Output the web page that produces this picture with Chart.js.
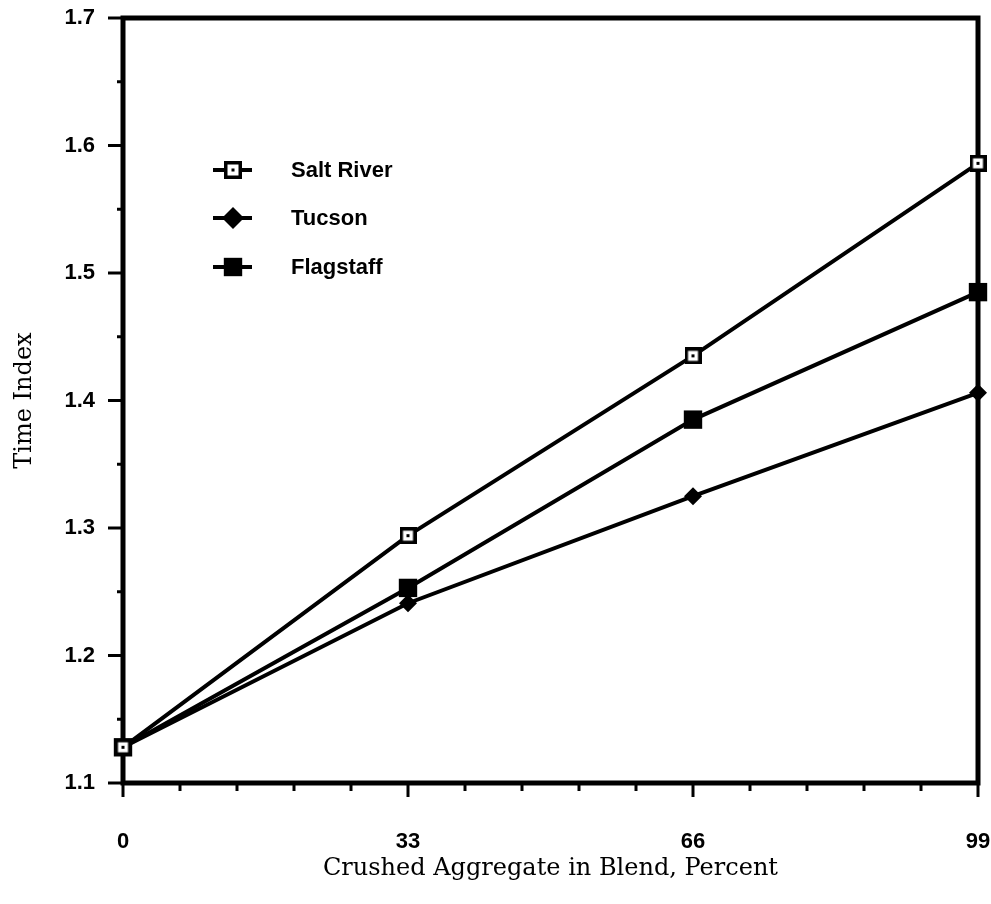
<!DOCTYPE html>
<html>
<head>
<meta charset="utf-8">
<script src="https://cdn.jsdelivr.net/npm/chart.js@4.4.0/dist/chart.umd.min.js"></script>
<style>
  html, body { margin: 0; padding: 0; background: #fff; }
  #wrap { width: 991px; height: 904px; }
</style>
</head>
<body>
<div id="wrap"><canvas id="timeIndexChart"></canvas></div>
<script>
  const blendPercent = [0, 33, 66, 99];
  const saltRiver = [1.128, 1.294, 1.435, 1.586];
  const tucson = [1.128, 1.241, 1.325, 1.406];
  const flagstaff = [1.128, 1.253, 1.385, 1.485];
  const seriesNames = ['Salt River', 'Tucson', 'Flagstaff'];
  const xTickLabels = [0, 33, 66, 99];
  const yTickLabels = [1.1, 1.2, 1.3, 1.4, 1.5, 1.6, 1.7];

  // open square with a dot in the middle, like the scan
  function makeOpenSquare(size) {
    const c = document.createElement('canvas');
    c.width = size; c.height = size;
    const g = c.getContext('2d');
    g.fillStyle = '#000';
    g.fillRect(0, 0, size, size);
    g.fillStyle = '#fff';
    g.fillRect(3.5, 3.5, size - 7, size - 7);
    g.fillStyle = '#000';
    g.fillRect(size / 2 - 1.5, size / 2 - 1.5, 3, 3);
    return c;
  }
  const saltMarker = makeOpenSquare(17);
  const saltLegendMarker = makeOpenSquare(18);

  const toPoints = vals => vals.map((v, i) => ({ x: blendPercent[i], y: v }));

  const serif = 'DejaVu Serif';
  const sans = 'Liberation Sans';

  const frameAndTicks = {
    id: 'frameAndTicks',
    beforeDatasetsDraw(chart) {
      const { ctx, chartArea, scales } = chart;
      ctx.save();
      ctx.strokeStyle = '#000';
      ctx.lineWidth = 3;
      ctx.lineCap = 'butt';
      // y ticks every 0.05, major each 0.1
      for (let i = 0; i <= 12; i++) {
        const v = 1.1 + i * 0.05;
        const py = scales.y.getPixelForValue(v);
        const len = i % 2 === 0 ? 15 : 6;
        ctx.beginPath();
        ctx.moveTo(chartArea.left - len, py);
        ctx.lineTo(chartArea.left, py);
        ctx.stroke();
      }
      // x ticks every 6.6, major each 33
      for (let i = 0; i <= 15; i++) {
        const v = i * 6.6;
        const px = scales.x.getPixelForValue(v);
        const len = i % 5 === 0 ? 14 : 8;
        ctx.beginPath();
        ctx.moveTo(px, chartArea.bottom);
        ctx.lineTo(px, chartArea.bottom + len);
        ctx.stroke();
      }
      ctx.lineWidth = 5;
      ctx.strokeRect(chartArea.left, chartArea.top, chartArea.right - chartArea.left, chartArea.bottom - chartArea.top);
      ctx.restore();
    }
  };

  const insideLegend = {
    id: 'insideLegend',
    afterDraw(chart) {
      const { ctx } = chart;
      const rows = [170, 218, 267];
      const styles = [
        { pointStyle: saltLegendMarker, radius: 9, rotation: 0, borderWidth: 0 },
        { pointStyle: 'rectRot', radius: 11, rotation: 0, borderWidth: 0 },
        { pointStyle: 'rect', radius: 13, rotation: 0, borderWidth: 0 }
      ];
      ctx.save();
      rows.forEach((y, i) => {
        ctx.strokeStyle = '#000';
        ctx.lineWidth = 4;
        ctx.beginPath();
        ctx.moveTo(213, y);
        ctx.lineTo(252, y);
        ctx.stroke();
        ctx.fillStyle = '#000';
        Chart.helpers.drawPoint(ctx, styles[i], 233, y);
        ctx.fillStyle = '#000';
        ctx.font = 'bold 22px "' + sans + '"';
        ctx.textAlign = 'left';
        ctx.textBaseline = 'middle';
        ctx.fillText(seriesNames[i], 291, y + 1);
      });
      ctx.restore();
    }
  };

  const lineStyle = {
    borderColor: '#000',
    backgroundColor: '#000',
    borderWidth: 4,
    pointBorderWidth: 0,
    pointBorderColor: '#000',
    tension: 0,
    clip: false
  };

  new Chart(document.getElementById('timeIndexChart'), {
    type: 'line',
    data: {
      datasets: [
        { ...lineStyle, label: seriesNames[0], data: toPoints(saltRiver), pointStyle: saltMarker, pointRadius: 9 },
        { ...lineStyle, label: seriesNames[1], data: toPoints(tucson), pointStyle: 'rectRot', pointRadius: 9 },
        { ...lineStyle, label: seriesNames[2], data: toPoints(flagstaff), pointStyle: 'rect', pointRadius: 13 }
      ]
    },
    options: {
      responsive: true,
      maintainAspectRatio: false,
      animation: false,
      layout: { padding: { top: 18, right: 6, left: 0, bottom: 0 } },
      plugins: {
        legend: { display: false },
        tooltip: { enabled: false }
      },
      scales: {
        x: {
          type: 'linear',
          min: 0,
          max: 99,
          afterBuildTicks: s => { s.ticks = xTickLabels.map(v => ({ value: v })); },
          afterFit: s => { s.height = 121; s.paddingLeft = 0; s.paddingRight = 0; },
          grid: { display: false, drawTicks: false },
          border: { display: false },
          ticks: {
            padding: 46,
            color: '#000',
            font: { family: sans, size: 22, weight: 'bold' },
            maxRotation: 0
          },
          title: {
            display: true,
            text: 'Crushed Aggregate in Blend, Percent',
            color: '#000',
            font: { family: serif, size: 24 },
            padding: { top: 0, bottom: 21 }
          }
        },
        y: {
          min: 1.1,
          max: 1.7,
          afterBuildTicks: s => { s.ticks = yTickLabels.map(v => ({ value: v })); },
          afterFit: s => { s.width = 123; s.paddingTop = 0; s.paddingBottom = 0; },
          grid: { display: false, drawTicks: false },
          border: { display: false },
          ticks: {
            padding: 28,
            color: '#000',
            font: { family: sans, size: 22, weight: 'bold' },
            callback: v => v.toFixed(1)
          },
          title: {
            display: true,
            text: 'Time Index',
            color: '#000',
            font: { family: serif, size: 24 },
            padding: { top: 10, bottom: 0 }
          }
        }
      }
    },
    plugins: [frameAndTicks, insideLegend]
  });
</script>
</body>
</html>
